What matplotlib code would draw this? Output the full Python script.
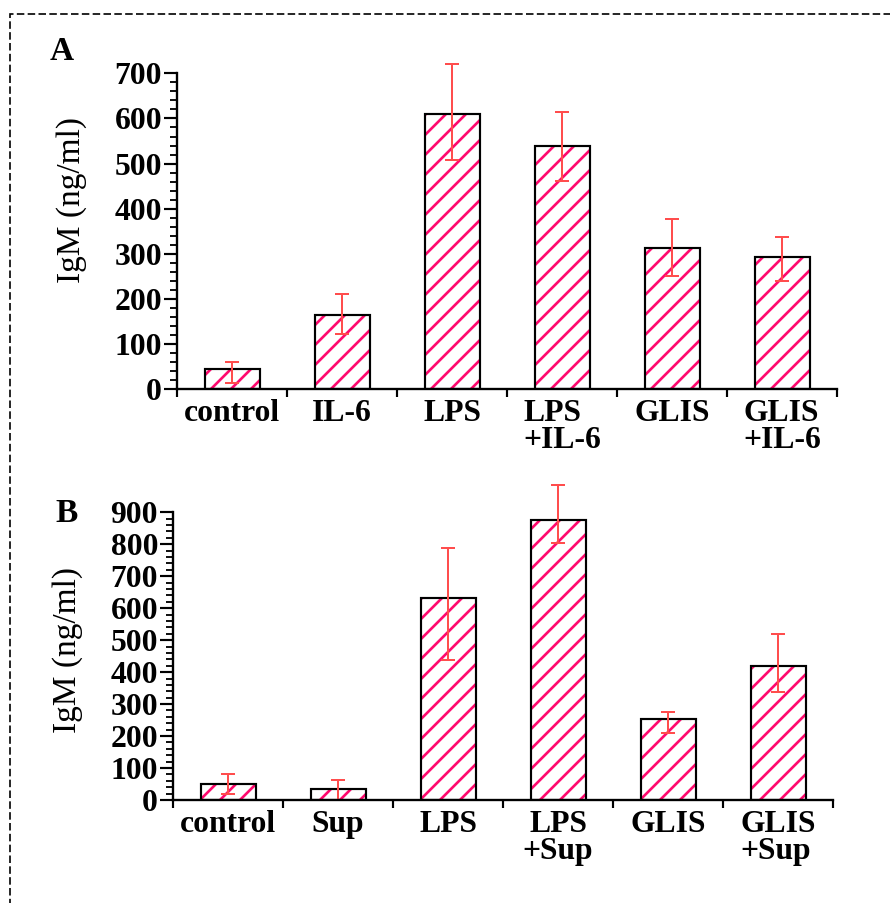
import numpy as np
import matplotlib
matplotlib.use('Agg')
import matplotlib.pyplot as plt
from matplotlib.ticker import MultipleLocator, FixedLocator

# data
labels_a = ['control', 'IL-6', 'LPS', 'LPS\n+IL-6', 'GLIS', 'GLIS\n+IL-6']
igm_a = [45, 164, 609, 538, 312, 292]
err_dn_a = [30, 42, 100, 77, 62, 51]
err_up_a = [16, 48, 111, 76, 66, 45]

labels_b = ['control', 'Sup', 'LPS', 'LPS\n+Sup', 'GLIS', 'GLIS\n+Sup']
igm_b = [49, 35, 631, 875, 252, 420]
err_dn_b = [30, 35, 193, 70, 42, 81]
err_up_b = [33, 28, 157, 111, 22, 99]

W, H, DPI = 890, 903, 120
plt.rcParams['font.family'] = ['Liberation Serif', 'DejaVu Serif']
plt.rcParams['hatch.linewidth'] = 1.6

pink = '#ff0a6e'
red = '#ff4d4d'

fig = plt.figure(figsize=(W / DPI, H / DPI), dpi=DPI)

# dashed frame, only top and left edges are inside the picture
frame = plt.Rectangle((10 / W, -0.1), 1.5, 1 - 13.5 / H + 0.1, transform=fig.transFigure,
                      fill=False, ec='black', lw=1.0, ls=(0, (4.5, 2)))
fig.add_artist(frame)


def panel(rect, labels, vals, dn, up, ymax, align, ylab_y):
    ax = fig.add_axes(rect)
    x = np.arange(len(vals))
    ax.bar(x, vals, width=0.5, color='white', edgecolor=pink, hatch='//', linewidth=0)
    ax.bar(x, vals, width=0.5, color='none', edgecolor='black', linewidth=1.3)
    eb = ax.errorbar(x, vals, yerr=[dn, up], fmt='none', ecolor=red, elinewidth=1.2,
                     capsize=4, capthick=1.2)
    for art in eb.lines[1] + eb.lines[2]:
        art.set_clip_on(False)

    ax.set_xlim(-0.5, len(vals) - 0.5)
    ax.set_ylim(0, ymax)
    for s in ['top', 'right']:
        ax.spines[s].set_visible(False)
    for s in ['left', 'bottom']:
        ax.spines[s].set_linewidth(1.4)

    ax.yaxis.set_major_locator(MultipleLocator(100))
    ax.yaxis.set_minor_locator(MultipleLocator(20))
    ax.tick_params(axis='y', which='major', length=8, width=1.3, pad=1, labelsize=19)
    ax.tick_params(axis='y', which='minor', length=4, width=1.1)
    for t in ax.get_yticklabels():
        t.set_fontweight('bold')

    ax.set_xticks(x)
    ax.set_xticklabels(labels, fontsize=19, fontweight='bold')
    ax.xaxis.set_minor_locator(FixedLocator(np.arange(len(vals) + 1) - 0.5))
    ax.tick_params(axis='x', which='major', length=0, pad=6)
    ax.tick_params(axis='x', which='minor', length=5, width=1.3)
    for t, a in zip(ax.get_xticklabels(), align):
        t.set_multialignment(a)
        t.set_linespacing(0.9)

    ax.set_ylabel('IgM (ng/ml)', fontsize=20)
    ax.yaxis.set_label_coords(-0.137, ylab_y)
    return ax


ax_a = panel([177 / W, 1 - 389.3 / H, 660 / W, 316 / H], labels_a, igm_a, err_dn_a, err_up_a,
             700, ['center', 'center', 'center', 'left', 'center', 'left'], 0.6)
ax_b = panel([173 / W, 1 - 800 / H, 660 / W, 287.7 / H], labels_b, igm_b, err_dn_b, err_up_b,
             900, ['center', 'center', 'center', 'center', 'center', 'left'], 0.52)

fig.text(50 / W, 1 - 60 / H, 'A', fontsize=20, fontweight='bold')
fig.text(55 / W, 1 - 522 / H, 'B', fontsize=20, fontweight='bold')

fig.savefig('out.png', dpi=DPI)
